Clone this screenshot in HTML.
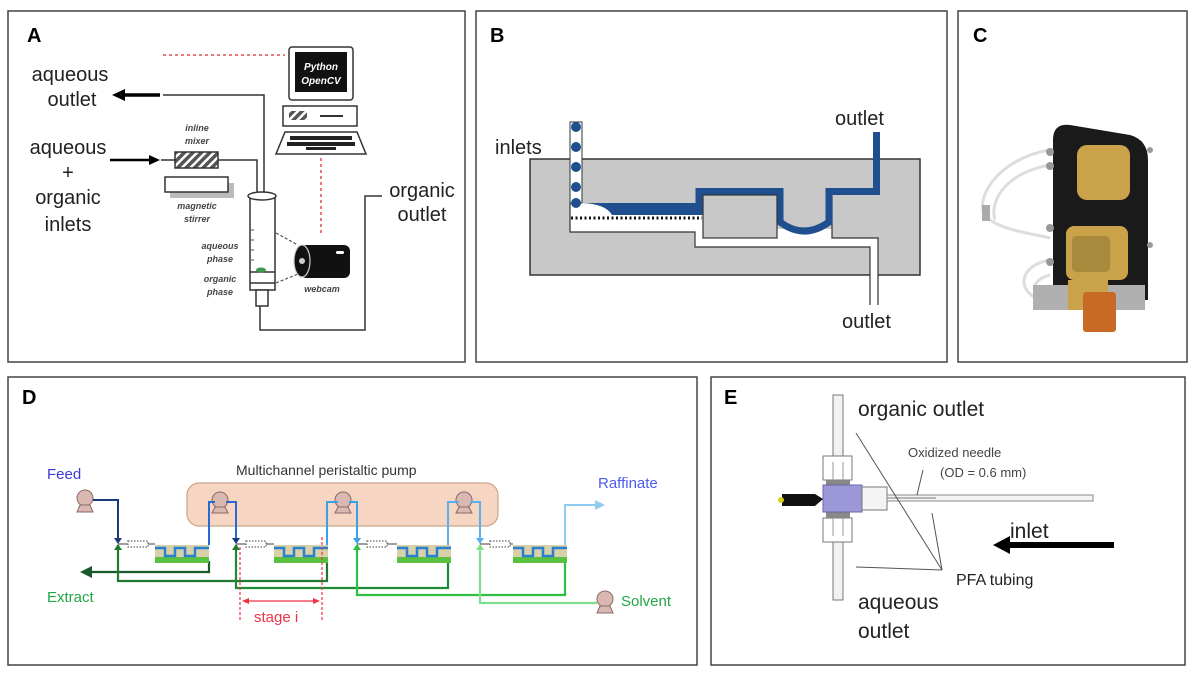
<!DOCTYPE html>
<html><head><meta charset="utf-8"><style>
html,body{margin:0;padding:0;background:#fff;}
svg{display:block;font-family:"Liberation Sans",sans-serif;}
</style></head><body>
<svg width="1200" height="677" viewBox="0 0 1200 677" xmlns="http://www.w3.org/2000/svg">
<defs>
<pattern id="hatch" width="6" height="6" patternUnits="userSpaceOnUse" patternTransform="rotate(45)"><rect width="6" height="6" fill="#555"/><rect width="2.5" height="6" fill="#fff"/></pattern>
</defs>
<rect width="1200" height="677" fill="#fff"/>
<g fill="none" stroke="#444" stroke-width="1.5">
<rect x="8" y="11" width="457" height="351"/>
<rect x="476" y="11" width="471" height="351"/>
<rect x="958" y="11" width="229" height="351"/>
<rect x="8" y="377" width="689" height="288"/>
<rect x="711" y="377" width="474" height="288"/>
</g>
<g font-weight="bold" font-size="20" fill="#000">
<text x="27" y="42">A</text><text x="490" y="42">B</text><text x="973" y="42">C</text><text x="22" y="404">D</text><text x="724" y="404">E</text>
</g>

<!-- PANEL A -->
<line x1="163" y1="55" x2="285" y2="55" stroke="#e05050" stroke-width="1.5" stroke-dasharray="3,3"/>
<line x1="321" y1="158" x2="321" y2="235" stroke="#e05050" stroke-width="1.5" stroke-dasharray="3,3"/>
<rect x="289" y="47" width="64" height="53" rx="3" fill="#fff" stroke="#333" stroke-width="1.5"/>
<rect x="295" y="52" width="52" height="40" fill="#111"/>
<text x="321" y="70" font-size="10" font-style="italic" font-weight="bold" fill="#fff" text-anchor="middle">Python</text>
<text x="321" y="84" font-size="10" font-style="italic" font-weight="bold" fill="#fff" text-anchor="middle">OpenCV</text>
<rect x="283" y="106" width="74" height="20" fill="#fff" stroke="#333" stroke-width="1.5"/>
<rect x="289" y="111" width="18" height="9" fill="url(#hatch)"/>
<line x1="320" y1="116" x2="343" y2="116" stroke="#333" stroke-width="2"/>
<path d="M285,132 L357,132 L366,154 L276,154 Z" fill="#fff" stroke="#333" stroke-width="1.5"/>
<g fill="#222"><rect x="290" y="136" width="62" height="4"/><rect x="287" y="142" width="68" height="4"/><rect x="306" y="147" width="30" height="3"/></g>
<g font-size="20" fill="#222" text-anchor="middle">
<text x="70" y="81">aqueous</text><text x="72" y="106">outlet</text>
<text x="68" y="154">aqueous</text><text x="68" y="179">+</text><text x="68" y="204">organic</text><text x="68" y="231">inlets</text>
<text x="422" y="197">organic</text><text x="422" y="221">outlet</text>
</g>
<line x1="160" y1="95" x2="122" y2="95" stroke="#000" stroke-width="3.5"/>
<path d="M112,95 L125,89 L125,101 Z" fill="#000"/>
<path d="M163,95 L264,95 L264,210" fill="none" stroke="#333" stroke-width="1.5"/>
<line x1="110" y1="160" x2="150" y2="160" stroke="#000" stroke-width="2.5"/>
<path d="M160,160 L149,155 L149,165 Z" fill="#000"/>
<path d="M161,160 L175,160 M218,160 L257,160 L257,212" fill="none" stroke="#333" stroke-width="1.5"/>
<rect x="175" y="152" width="43" height="16" fill="url(#hatch)" stroke="#333" stroke-width="1.5"/>
<rect x="170" y="183" width="64" height="15" fill="#bbb"/>
<rect x="165" y="177" width="63" height="15" fill="#fff" stroke="#333" stroke-width="1.5"/>
<g font-size="9" font-style="italic" font-weight="bold" fill="#444" text-anchor="middle">
<text x="197" y="131">inline</text><text x="197" y="144">mixer</text>
<text x="197" y="209">magnetic</text><text x="197" y="222">stirrer</text>
<text x="220" y="249">aqueous</text><text x="220" y="262">phase</text>
<text x="220" y="282">organic</text><text x="220" y="295">phase</text>
<text x="322" y="292">webcam</text>
</g>
<rect x="250" y="196" width="25" height="94" fill="#fff" stroke="#333" stroke-width="1.5"/>
<ellipse cx="262" cy="196" rx="14" ry="4" fill="#fff" stroke="#333" stroke-width="1.5"/>
<line x1="250" y1="272" x2="275" y2="272" stroke="#333" stroke-width="1.5"/>
<line x1="250" y1="283" x2="275" y2="283" stroke="#333" stroke-width="1.5"/>
<ellipse cx="261" cy="270" rx="5" ry="2.5" fill="#3a9a50"/>
<g stroke="#555" stroke-width="1"><line x1="250" y1="230" x2="254" y2="230"/><line x1="250" y1="240" x2="254" y2="240"/><line x1="250" y1="250" x2="254" y2="250"/><line x1="250" y1="260" x2="254" y2="260"/></g>
<rect x="256" y="290" width="12" height="16" fill="#fff" stroke="#333" stroke-width="1.5"/>
<path d="M260,306 L260,330 L365,330 L365,196 L382,196" fill="none" stroke="#333" stroke-width="1.5"/>
<g stroke="#555" stroke-width="1.2" stroke-dasharray="3,2"><line x1="276" y1="233" x2="298" y2="245"/><line x1="276" y1="283" x2="298" y2="274"/></g>
<rect x="300" y="245" width="50" height="33" rx="6" fill="#111"/>
<ellipse cx="302" cy="261" rx="8" ry="16" fill="#111" stroke="#ccc" stroke-width="1.2"/>
<circle cx="302" cy="261" r="3" fill="#ccc"/>
<rect x="336" y="251" width="8" height="3" rx="1.5" fill="#fff"/>

<!-- PANEL B -->
<rect x="530" y="159" width="390" height="116" fill="#c8c8c8" stroke="#333" stroke-width="1.5"/>
<g fill="#fff">
<rect x="570" y="203" width="133" height="29"/>
<rect x="695" y="215" width="8" height="32"/>
<rect x="703" y="238" width="167" height="9"/>
<rect x="777" y="229" width="55" height="18"/>
<rect x="870" y="238" width="8" height="67"/>
</g>
<g fill="none" stroke="#333" stroke-width="1.2">
<path d="M570,203 L570,232 L695,232 L695,247 L870,247 L870,305"/>
<path d="M878,305 L878,238 L832,238 L832,196"/>
</g>
<rect x="582" y="203" width="116" height="12" fill="#1f4f8f"/>
<path d="M582,203 Q606,204 612,215 L582,215 Z" fill="#fff"/>
<path d="M699,215 L699,191.5 L780,191.5 L780,222 Q804,240 829,222 L829,191.5 L876.5,191.5 L876.5,132" fill="none" stroke="#1f4f8f" stroke-width="7"/>
<rect x="703" y="195" width="74" height="43" fill="#c8c8c8" stroke="#333" stroke-width="1.2"/>
<line x1="571" y1="218" x2="702" y2="218" stroke="#111" stroke-width="3" stroke-dasharray="2,2.5"/>
<rect x="570" y="122" width="12" height="81" fill="#fff" stroke="#333" stroke-width="1"/>
<g fill="#1f4f8f"><circle cx="576" cy="127" r="5"/><circle cx="576" cy="147" r="5"/><circle cx="576" cy="167" r="5"/><circle cx="576" cy="187" r="5"/><circle cx="576" cy="203" r="5"/></g>
<g font-size="20" fill="#222"><text x="495" y="154">inlets</text><text x="835" y="125">outlet</text><text x="842" y="328">outlet</text></g>

<!-- PANEL C -->
<g stroke="#ddd" stroke-width="3" fill="none">
<path d="M1049,150 C995,160 975,200 985,215 C995,230 1040,235 1050,238"/>
<path d="M1049,165 C1000,175 990,205 995,220"/>
<path d="M1050,260 C1020,265 1015,290 1040,300"/>
<path d="M1050,275 C1030,280 1030,295 1045,305"/>
</g>
<rect x="982" y="205" width="8" height="16" fill="#aaa"/>
<path d="M1053,140 Q1053,123 1070,125 L1130,135 Q1148,140 1148,160 L1148,300 L1053,300 Z" fill="#1a1a1a"/>
<rect x="1077" y="145" width="53" height="55" rx="10" fill="#c9a24a"/>
<rect x="1066" y="226" width="62" height="54" rx="8" fill="#c9a24a"/>
<rect x="1072" y="236" width="38" height="36" rx="5" fill="#a88a3c"/>
<rect x="1033" y="285" width="112" height="25" fill="#b0b0b0"/>
<rect x="1068" y="280" width="40" height="30" fill="#c9a24a"/>
<rect x="1083" y="292" width="33" height="40" rx="3" fill="#c86a25"/>
<g fill="#999"><circle cx="1050" cy="152" r="4"/><circle cx="1050" cy="166" r="4"/><circle cx="1050" cy="228" r="4"/><circle cx="1050" cy="262" r="4"/><circle cx="1150" cy="150" r="3"/><circle cx="1150" cy="245" r="3"/></g>

<!-- PANEL D -->
<text x="47" y="479" font-size="15" fill="#3a3adf">Feed</text>
<text x="236" y="475" font-size="14" fill="#333">Multichannel peristaltic pump</text>
<rect x="187" y="483" width="311" height="43" rx="12" fill="#f6d6c2" stroke="#c9a58a" stroke-width="1.2"/>
<text x="598" y="488" font-size="15" fill="#4b5bef">Raffinate</text>
<text x="47" y="602" font-size="15" fill="#22a844">Extract</text>
<text x="621" y="606" font-size="15" fill="#22a844">Solvent</text>
<text x="254" y="622" font-size="15" fill="#ee3344">stage i</text>
<g fill="#d8b8b0" stroke="#8a6a66" stroke-width="1">
<circle cx="85" cy="498" r="8"/><path d="M80,505 L90,505 L93,512 L77,512 Z"/>
<circle cx="605" cy="599" r="8"/><path d="M600,606 L610,606 L613,613 L597,613 Z"/>
<circle cx="220" cy="500" r="8"/><path d="M215,507 L225,507 L228,513 L212,513 Z"/>
<circle cx="343" cy="500" r="8"/><path d="M338,507 L348,507 L351,513 L335,513 Z"/>
<circle cx="464" cy="500" r="8"/><path d="M459,507 L469,507 L472,513 L456,513 Z"/>
</g>
<g fill="none" stroke-width="2.2">
<path d="M209,561 L209,572 L88,572" stroke="#1a5a2a"/>
<path d="M118,545 L118,581 L327,581 L327,561" stroke="#1f7a30"/>
<path d="M236,545 L236,588 L448,588 L448,561" stroke="#1f8a35"/>
<path d="M357,545 L357,595 L565,595 L565,561" stroke="#2ec040"/>
<path d="M480,545 L480,603 L597,603" stroke="#7ee08a"/>
</g>
<path d="M80,572 L92,566 L92,578 Z" fill="#1a5a2a"/>
<g fill="none" stroke-width="2">
<path d="M93,500 L118,500 L118,541" stroke="#1a3a7a"/>
<path d="M209,545 L209,502 L215,502 M226,502 L236,502 L236,541" stroke="#2a6ad0"/>
<path d="M327,545 L327,502 L338,502 M349,502 L357,502 L357,541" stroke="#3aa0e8"/>
<path d="M448,545 L448,502 L459,502 M470,502 L480,502 L480,541" stroke="#5ab0ec"/>
<path d="M565,547 L565,505 L598,505" stroke="#90ccf2"/>
</g>
<path d="M605,505 L595,500 L595,510 Z" fill="#90ccf2"/>
<g>
<g fill="#1a3a7a"><path d="M114,538 L122,538 L118,544 Z"/><path d="M232,538 L240,538 L236,544 Z"/><path d="M353,538 L361,538 L357,544 Z" fill="#3aa0e8"/><path d="M476,538 L484,538 L480,544 Z" fill="#5ab0ec"/></g>
<g fill="#1f7a30"><path d="M114,550 L122,550 L118,544 Z"/><path d="M232,550 L240,550 L236,544 Z"/><path d="M353,550 L361,550 L357,544 Z" fill="#2ec040"/><path d="M476,550 L484,550 L480,544 Z" fill="#7ee08a"/></g>
<g stroke="#666" stroke-width="1.2" fill="none">
<path d="M118,544 L128,544 M148,544 L155,544"/><path d="M128,541 h20 v6 h-20 z" stroke-dasharray="1.5,1.5"/>
<path d="M236,544 L246,544 M266,544 L274,544"/><path d="M246,541 h20 v6 h-20 z" stroke-dasharray="1.5,1.5"/>
<path d="M357,544 L367,544 M387,544 L397,544"/><path d="M367,541 h20 v6 h-20 z" stroke-dasharray="1.5,1.5"/>
<path d="M480,544 L490,544 M510,544 L513,544"/><path d="M490,541 h20 v6 h-20 z" stroke-dasharray="1.5,1.5"/>
</g>
<g id="m">
<rect x="155" y="545" width="54" height="18" fill="#d8d0a8"/>
<rect x="155" y="557" width="54" height="6" fill="#5ac040"/>
<path d="M155,548 L165,548 L165,556 L175,556 L175,548 L185,548 L185,556 L195,556 L195,548 L209,548" fill="none" stroke="#2a80d0" stroke-width="2.5"/>
</g>
<use href="#m" x="119"/><use href="#m" x="242"/><use href="#m" x="358"/>
</g>
<g stroke="#ee3344" stroke-width="1.2" fill="none">
<line x1="240" y1="547" x2="240" y2="620" stroke-dasharray="3,2"/>
<line x1="322" y1="537" x2="322" y2="620" stroke-dasharray="3,2"/>
<line x1="246" y1="601" x2="316" y2="601"/>
</g>
<path d="M242,601 L249,598 L249,604 Z M320,601 L313,598 L313,604 Z" fill="#ee3344"/>

<!-- PANEL E -->
<rect x="833" y="395" width="10" height="205" fill="#f2f2f2" stroke="#777" stroke-width="1"/>
<rect x="823" y="456" width="29" height="24" fill="#fff" stroke="#777" stroke-width="1"/>
<rect x="823" y="518" width="29" height="24" fill="#fff" stroke="#777" stroke-width="1"/>
<g stroke="#999" stroke-width="1"><line x1="833" y1="462" x2="833" y2="480"/><line x1="843" y1="462" x2="843" y2="480"/><line x1="833" y1="518" x2="833" y2="536"/><line x1="843" y1="518" x2="843" y2="536"/></g>
<rect x="826" y="480" width="24" height="38" fill="#888"/>
<rect x="823" y="485" width="39" height="27" fill="#9c98d8" stroke="#6a66a8" stroke-width="1"/>
<path d="M782,494 L815,494 L823,499 L815,506 L782,506 Z" fill="#111"/>
<circle cx="781" cy="500" r="3" fill="#d8d020"/>
<rect x="862" y="487" width="25" height="23" fill="#f4f4f4" stroke="#777" stroke-width="1"/>
<rect x="887" y="495" width="206" height="6" fill="#f4f4f4" stroke="#888" stroke-width="1"/>
<line x1="887" y1="498" x2="936" y2="498" stroke="#777" stroke-width="1"/>
<g font-size="21" fill="#222">
<text x="858" y="416">organic outlet</text>
<text x="1010" y="538">inlet</text>
<text x="858" y="609">aqueous</text><text x="858" y="638">outlet</text>
</g>
<text x="908" y="457" font-size="13" fill="#444">Oxidized needle</text>
<text x="940" y="477" font-size="13" fill="#444">(OD = 0.6 mm)</text>
<text x="956" y="585" font-size="16" fill="#222">PFA tubing</text>
<line x1="1114" y1="545" x2="1005" y2="545" stroke="#000" stroke-width="6"/>
<path d="M993,545 L1010,536 L1010,554 Z" fill="#000"/>
<g stroke="#555" stroke-width="1" fill="none">
<line x1="942" y1="570" x2="856" y2="433"/>
<line x1="942" y1="570" x2="932" y2="513"/>
<line x1="942" y1="570" x2="856" y2="567"/>
<line x1="923" y1="470" x2="917" y2="495"/>
</g>
</svg>
</body></html>
